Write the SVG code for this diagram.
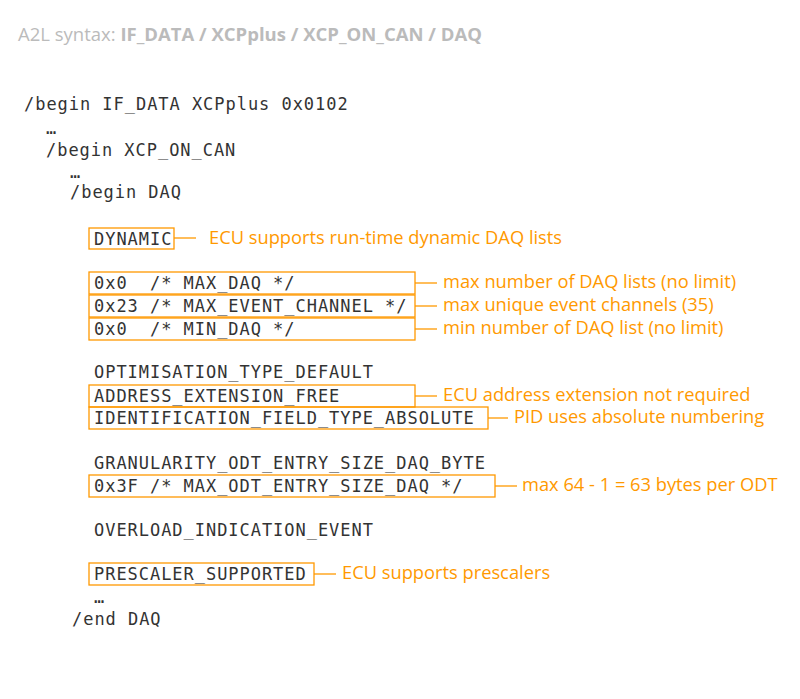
<svg xmlns="http://www.w3.org/2000/svg" width="800" height="699" viewBox="0 0 800 699">
<style>
.c{font-family:"DejaVu Sans Mono","Liberation Mono",monospace;font-size:17px;letter-spacing:0.96px;fill:#333;white-space:pre}
.l{font-family:"Open Sans",sans-serif;font-size:18.3px;fill:#ff9900}
.b{fill:none;stroke:#ff9900;stroke-width:1.3}
.k{stroke:#ff9900;stroke-width:1.3}
</style>
<rect width="800" height="699" fill="#fff"/>
<text x="18" y="41" font-family="Open Sans,sans-serif" font-size="18.5" fill="#bbb">A2L syntax: <tspan font-weight="bold">IF_DATA / XCPplus / XCP_ON_CAN / DAQ</tspan></text>
<g class="c" xml:space="preserve">
<text x="24" y="110">/begin IF_DATA XCPplus 0x0102</text>
<text x="46" y="134">…</text>
<text x="46" y="156">/begin XCP_ON_CAN</text>
<text x="70" y="178">…</text>
<text x="70" y="198">/begin DAQ</text>
<text x="94" y="378">OPTIMISATION_TYPE_DEFAULT</text>
<text x="94" y="469">GRANULARITY_ODT_ENTRY_SIZE_DAQ_BYTE</text>
<text x="94" y="536">OVERLOAD_INDICATION_EVENT</text>
<text x="94" y="603">…</text>
<text x="72" y="625">/end DAQ</text>
</g>
<g id="dynamic" xml:space="preserve"><rect class="b" x="89" y="228" width="85" height="21"/><text class="c" x="94" y="245">DYNAMIC</text><text class="l" x="209" y="244">ECU supports run-time dynamic DAQ lists</text></g>
<g id="maxdaq" xml:space="preserve"><rect class="b" x="89" y="272" width="326" height="22"/><text class="c" x="94" y="289">0x0  /* MAX_DAQ */</text><text class="l" x="443" y="288">max number of DAQ lists (no limit)</text></g>
<g id="maxev" xml:space="preserve"><rect class="b" x="89" y="295" width="326" height="22"/><text class="c" x="94" y="312">0x23 /* MAX_EVENT_CHANNEL */</text><text class="l" x="443" y="311">max unique event channels (35)</text></g>
<g id="mindaq" xml:space="preserve"><rect class="b" x="89" y="318" width="326" height="22"/><text class="c" x="94" y="335">0x0  /* MIN_DAQ */</text><text class="l" x="443" y="334">min number of DAQ list (no limit)</text></g>
<g id="addr"><rect class="b" x="89" y="385" width="326" height="22"/><text class="c" x="94" y="402">ADDRESS_EXTENSION_FREE</text><text class="l" x="443" y="401">ECU address extension not required</text></g>
<g id="ident"><rect class="b" x="89" y="407" width="399" height="22"/><text class="c" x="94" y="424">IDENTIFICATION_FIELD_TYPE_ABSOLUTE</text><text class="l" x="514" y="423">PID uses absolute numbering</text></g>
<g id="odt"><rect class="b" x="89" y="475" width="406" height="22"/><text class="c" x="94" y="492">0x3F /* MAX_ODT_ENTRY_SIZE_DAQ */</text><text class="l" x="522" y="491">max 64 - 1 = 63 bytes per ODT</text></g>
<g id="presc"><rect class="b" x="89" y="563" width="225" height="22"/><text class="c" x="94" y="580">PRESCALER_SUPPORTED</text><text class="l" x="342" y="579">ECU supports prescalers</text></g>
<g id="connectors" class="k">
<line x1="174" y1="238" x2="196" y2="238"/>
<line x1="415" y1="283" x2="437" y2="283"/>
<line x1="415" y1="306" x2="437" y2="306"/>
<line x1="415" y1="329" x2="437" y2="329"/>
<line x1="415" y1="396" x2="437" y2="396"/>
<line x1="488" y1="418" x2="508" y2="418"/>
<line x1="495" y1="486" x2="517" y2="486"/>
<line x1="314" y1="574" x2="336" y2="574"/>
</g>
</svg>
